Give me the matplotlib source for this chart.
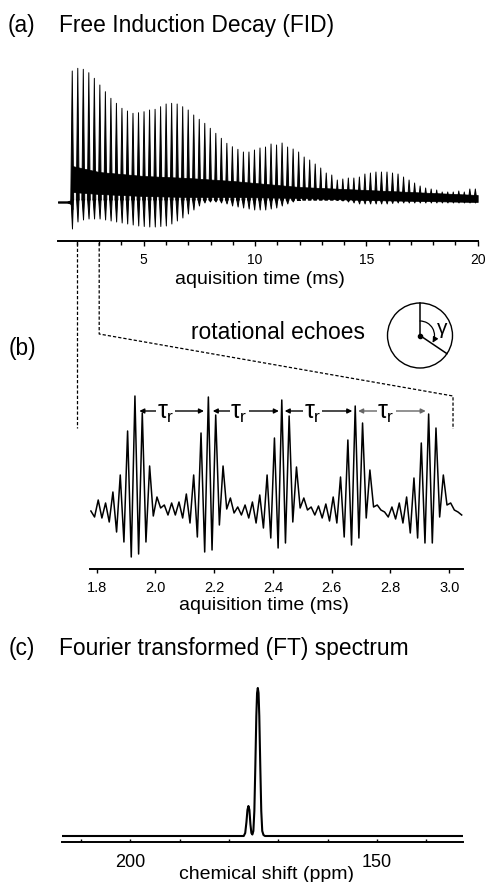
import numpy as np
import matplotlib
matplotlib.use('Agg')
import matplotlib.pyplot as plt
from matplotlib.ticker import MultipleLocator, FormatStrFormatter
from matplotlib.patches import Circle, FancyArrowPatch
from matplotlib.collections import PolyCollection
from matplotlib.path import Path

plt.rcParams['font.family'] = ['Liberation Sans', 'DejaVu Sans']
plt.rcParams['mathtext.fontset'] = 'custom'
plt.rcParams['mathtext.rm'] = 'Liberation Sans'
plt.rcParams['mathtext.it'] = 'Liberation Sans'

# ---------------- data ----------------
# (a) FID: one spike per rotor echo (top / bottom of each echo), plus the dense band
echo_t0 = 1.79        # ms, first echo
tau_r = 0.248         # ms, rotor period
fid_tops = [131, 133.7, 132.7, 129.3, 123.7, 117, 110.3, 103.7, 98.7, 93.7, 91, 88.7,
            89.3, 90.3, 92, 92.7, 95.3, 98, 98.7, 98, 95.3, 92, 87, 82.7, 78.7, 73.7,
            68.7, 63.7, 58.7, 55.3, 52.7,
            50, 50, 52, 54, 55, 58, 57, 59, 55, 53, 50, 45, 42, 38, 34, 29, 27, 22,
            23, 24, 24, 25, 28, 29, 30, 30, 30, 29, 28, 25, 22, 19, 16, 14, 13, 12,
            10, 10, 10, 11, 10, 13, 13]
fid_bottoms = [-27, -20, -18, -17, -17, -17, -18, -19, -20, -21, -22, -23, -24, -24.5,
               -25, -25, -24.5, -24, -22, -19, -16, -12, -8, -4, -1,
               0, 0, -1, -2, -4, -5, -6, -7, -8, -8, -8, -7, -6, -4, -2, 0, 2, 3, 3.5,
               4, 4, 3.5, 3, 2,
               1, 0, -1, -2, -2, -2, -2, -2, -2, -1.5, -1, -1, -1, -1, -1, -1, -1, -1,
               -1, -1, -1, -1, -1, -1, -1]
band_t = [1.79, 3.0, 5.0, 7.0, 9.0, 12.0, 15.0, 20.0]
band_hi = [36, 30, 26, 24, 21, 15, 12, 7]
band_lo = [10, 8, 6, 5, 5, 4, 2, 0]
pre_t = [1.15, 1.55, 1.68, 1.74, 1.77, 1.79]
pre_hi = [0.6, 0.6, 1.2, 2.5, 4.5, 7]
pre_lo = [-0.6, -0.6, -1.2, -2.5, -4.5, -7]

# (b) zoom on rotational echoes, sampled every 12.5 us from 1.78 ms
dwell = 0.0125
echo_start = 1.78
echo_signal = [-1, -7, 10, -8, 7, -12, 18, -22, 35, -32, 79, -47, 114, -44, 97, -32,
               44, -6, 13, 2, 5, -5, 7, -5, 8, -8, 16, -13, 35, -27, 77, -42, 113,
               -40, 95, -15, 44, 1, 12, -3, 3, -5, 5, -8, 8, -13, 15, -18, 35, -28,
               72, -38, 110, -33, 94, -12, 43, 2, 12, 0, 3, -5, 4, -8, 6, -11, 13,
               -13, 33, -27, 70, -35, 104, -28, 87, -8, 40, 3, 5, 0, -2, -7, 3, -9,
               7, -13, 13, -23, 32, -28, 67, -33, 96, -33, 82, -7, 35, 5, 7, 0, -2, -5]
tau_start = [1.945, 2.195, 2.44, 2.69]
tau_end = [2.165, 2.42, 2.67, 2.92]
tau_label_t = [2.035, 2.285, 2.535, 2.785]
tau_colors = ['k', 'k', 'k', '#666666']

# (c) FT spectrum
spec_ppm = [213.8, 177.0, 176.7, 176.45, 176.25, 176.05, 175.85, 175.65, 175.45, 175.25,
            175.05, 174.85, 174.65, 174.45, 174.3, 174.15, 174.0, 173.85, 173.65,
            173.45, 173.25, 173.0, 172.7, 132.6]
spec_int = [0, 0, 3, 14, 26, 30, 26, 12, 3, 1.5, 5, 25, 70, 120, 143, 148, 143, 120,
            70, 25, 5, 1, 0, 0]

# ---------------- figure ----------------
W, H = 489, 882
fig = plt.figure(figsize=(W / 100, H / 100), dpi=100)


def px_axes(x0, y0, x1, y1):
    # box in pixels, y counted from the top
    return fig.add_axes([x0 / W, 1 - y1 / H, (x1 - x0) / W, (y1 - y0) / H])


def style_bottom_only(ax):
    for s in ['left', 'right', 'top']:
        ax.spines[s].set_visible(False)
    ax.spines['bottom'].set_linewidth(1.4)
    ax.set_yticks([])
    ax.patch.set_alpha(0)


# ===== (a) FID =====
ax_a = px_axes(58, 62, 477.7, 241)
ax_a.fill_between(pre_t, pre_lo, pre_hi, color='k', lw=0.8)
ax_a.fill_between(band_t, band_lo, band_hi, color='k', lw=0.5)
echo_t = echo_t0 + tau_r * np.arange(len(fid_tops))
half_w = 0.065
spikes = []
for t, top, bot in zip(echo_t, fid_tops, fid_bottoms):
    spikes.append([(t - half_w, 2), (t, top), (t + half_w, 2)])
    spikes.append([(t - 0.8 * half_w, 2), (t + 0.01, bot), (t + 0.8 * half_w, 2)])
ax_a.add_collection(PolyCollection(spikes, facecolors='k', edgecolors='k', linewidths=0.7))
ax_a.set_xlim(1.15, 20)
ax_a.set_ylim(-39, 140)
style_bottom_only(ax_a)
ax_a.xaxis.set_major_locator(MultipleLocator(5))
ax_a.xaxis.set_minor_locator(MultipleLocator(1))
ax_a.tick_params(axis='x', which='major', direction='out', length=3.5, width=1,
                 labelsize=10, pad=5.5)
ax_a.tick_params(axis='x', which='minor', direction='out', length=2.8, width=1)
ax_a.set_xlabel('aquisition time (ms)', fontsize=14)
ax_a.xaxis.set_label_coords(0.481, -0.215)
ax_a.xaxis.label.set_va('center')

# ===== (b) rotational echoes =====
ax_b = px_axes(90, 385, 463, 569)
echo_time = echo_start + dwell * np.arange(len(echo_signal))
ax_b.plot(echo_time, echo_signal, color='k', lw=1.1)
for s, e, c in zip(tau_start, tau_end, tau_colors):
    ax_b.annotate('', xy=(e, 99), xytext=(s, 99),
                  arrowprops=dict(arrowstyle='<|-|>', lw=1, color=c,
                                  mutation_scale=7, shrinkA=0, shrinkB=0))
for t in tau_label_t:
    ax_b.text(t, 97, r'$\tau_r$', fontsize=18, ha='center', va='center',
              bbox=dict(facecolor='white', edgecolor='none', pad=0.5))
ax_b.set_xlim(1.777, 3.047)
ax_b.set_ylim(-59, 125)
style_bottom_only(ax_b)
ax_b.xaxis.set_major_locator(MultipleLocator(0.2))
ax_b.xaxis.set_major_formatter(FormatStrFormatter('%.1f'))
ax_b.tick_params(axis='x', direction='out', length=3, width=1, labelsize=10.5, pad=6)
ax_b.set_xlabel('aquisition time (ms)', fontsize=14)
ax_b.xaxis.set_label_coords(0.4665, -0.201)
ax_b.xaxis.label.set_va('center')

# ===== (c) FT spectrum =====
ax_c = px_axes(62, 676, 463, 841.7)
ax_c.plot(spec_ppm, spec_int, color='k', lw=1.5)
ax_c.set_xlim(213.8, 132.6)
ax_c.set_ylim(-5.7, 160)
style_bottom_only(ax_c)
ax_c.xaxis.set_major_locator(MultipleLocator(50))
ax_c.xaxis.set_minor_locator(MultipleLocator(10))
ax_c.tick_params(axis='x', which='major', direction='in', length=2.5, width=1,
                 labelsize=13, pad=9)
ax_c.tick_params(axis='x', which='minor', direction='in', length=2, width=1)
ax_c.set_xlabel('chemical shift (ppm)', fontsize=14)
ax_c.xaxis.set_label_coords(0.511, -0.195)
ax_c.xaxis.label.set_va('center')

# ===== overlay in pixel coordinates (y from top) =====
ax_o = fig.add_axes([0, 0, 1, 1], zorder=5)
ax_o.set_xlim(0, W)
ax_o.set_ylim(H, 0)
ax_o.axis('off')
ax_o.patch.set_alpha(0)


def to_px(ax, x, y):
    dx, dy = ax.transData.transform((x, y))
    return dx, H - dy


dash = dict(color='k', lw=0.9, ls=(0, (2.6, 1.6)))
xa2, ya = to_px(ax_a, 2.0, -39)
xa3, _ = to_px(ax_a, 3.0, -39)
xb_end, yb_top = to_px(ax_b, 3.013, 114)
_, yb_bot = to_px(ax_b, 3.013, 81)
ax_o.plot([xa2, xa2], [ya + 2, 428], **dash)
ax_o.plot([xa3, xa3, xb_end, xb_end], [ya + 2, 334, yb_top, yb_bot], **dash)

# panel labels and titles
ax_o.text(8, 25.5, '(a)', fontsize=16.4, va='center', ha='left')
ax_o.text(59, 25.5, 'Free Induction Decay (FID)', fontsize=16.4, va='center', ha='left')
ax_o.text(8.3, 349, '(b)', fontsize=16.4, va='center', ha='left')
ax_o.text(278.3, 339.3, 'rotational echoes', fontsize=16.4, va='baseline', ha='center')
ax_o.text(8.3, 649, '(c)', fontsize=16.4, va='center', ha='left')
ax_o.text(59.3, 649, 'Fourier transformed (FT) spectrum', fontsize=16.4,
          va='center', ha='left')

# rotor diagram with angle gamma
cx, cy, rad = 420, 335.5, 32.5
ax_o.add_patch(Circle((cx, cy), rad, fill=False, lw=1.0, color='k'))
ax_o.plot([cx, cx], [cy, cy - rad], color='k', lw=1.1)
ang = np.deg2rad(-34)
ax_o.plot([cx, cx + rad * np.cos(ang)], [cy, cy - rad * np.sin(ang)], color='k', lw=1.1)
ax_o.plot([cx], [cy], 'o', color='k', ms=3)
arc = Path.arc(-30, 90)
verts = arc.vertices[::-1] * 14.5
verts = np.column_stack([cx + verts[:, 0], cy - verts[:, 1]])
ax_o.add_patch(FancyArrowPatch(path=Path(verts, arc.codes), arrowstyle='-|>',
                               mutation_scale=8, lw=0.9, color='k'))
ax_o.text(441.7, 329, 'γ', fontsize=15, ha='center', va='center')

fig.savefig('out.png', dpi=100)
